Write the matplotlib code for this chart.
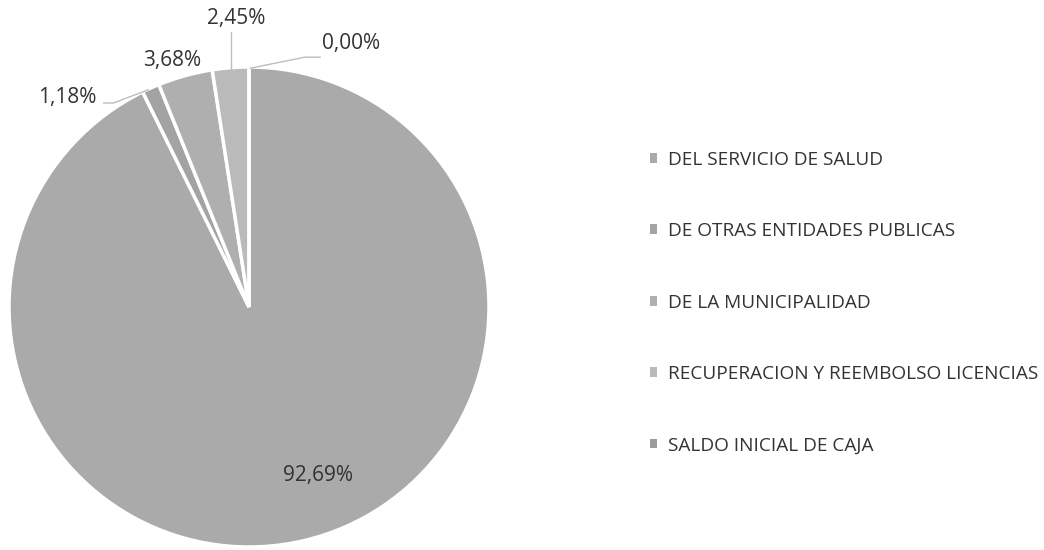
import matplotlib.pyplot as plt
from matplotlib.patches import Patch

categorias = ["DEL SERVICIO DE SALUD",
              "DE OTRAS ENTIDADES PUBLICAS",
              "DE LA MUNICIPALIDAD",
              "RECUPERACION Y REEMBOLSO LICENCIAS",
              "SALDO INICIAL DE CAJA"]
porcentajes = [92.69, 1.18, 3.68, 2.45, 0.00]
etiquetas = ["92,69%", "1,18%", "3,68%", "2,45%", "0,00%"]
colores = ["#aaaaaa", "#a3a3a3", "#afafaf", "#bababa", "#9c9c9c"]

plt.rcParams['font.family'] = ['Open Sans', 'DejaVu Sans']
texto = "#333333"

fig = plt.figure(figsize=(10.44, 5.5), dpi=100)
# pie: centre (249, 307) px from top, radius 240 px
ax = fig.add_axes([9 / 1044, 3 / 550, 480 / 1044, 480 / 550])
wedges, _ = ax.pie(porcentajes, colors=colores, startangle=90, counterclock=False,
                   radius=1.0, wedgeprops=dict(edgecolor="white", linewidth=2.5))
ax.set_xlim(-1, 1)
ax.set_ylim(-1, 1)
ax.set_aspect("equal")
ax.axis("off")

# label positions (data units of the pie axes)
pos = [(0.2875, -0.704), (-0.757, 0.875), (-0.321, 1.029), (-0.054, 1.204), (0.303, 1.10)]
lineas = [None,
          [(-0.605, 0.85), (-0.565, 0.85), (-0.42, 0.905)],
          None,
          [(-0.075, 1.145), (-0.075, 0.985)],
          [(0.296, 1.041), (0.233, 1.041), (0.006, 0.995)]]

for i, t in enumerate(etiquetas):
    x, y = pos[i]
    ha = "left" if i == 4 else "center"
    ax.text(x, y, t, ha=ha, va="center", fontsize=15, color=texto)
    if lineas[i] is not None:
        xs = [p[0] for p in lineas[i]]
        ys = [p[1] for p in lineas[i]]
        ax.plot(xs, ys, color="#bdbdbd", linewidth=1, clip_on=False)

manejadores = [Patch(facecolor=c, edgecolor="none") for c in colores]
fig.legend(manejadores, categorias, loc="upper left",
           bbox_to_anchor=(642 / 1044, 1 - 143 / 550), frameon=False,
           fontsize=13.7, labelcolor=texto, handlelength=0.4, handleheight=0.4,
           handletextpad=0.55, labelspacing=2.81, borderaxespad=0)

fig.savefig("out.png", dpi=100, facecolor="white")
